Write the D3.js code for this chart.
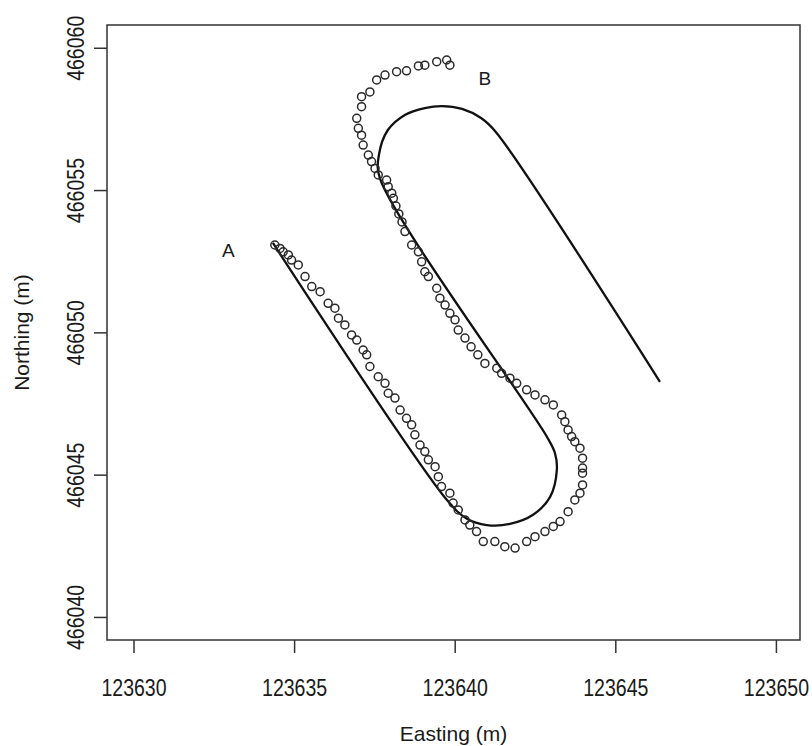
<!DOCTYPE html>
<html>
<head>
<meta charset="utf-8">
<script src="https://cdn.jsdelivr.net/npm/d3@7"></script>
<style>
  body { margin: 0; background: #fff; }
  .tick text, .lab { font-family: "Liberation Sans", Arial, sans-serif; fill: #1a1a1a; }
</style>
</head>
<body>
<div id="plot"></div>
<script>
var width = 812;
var height = 746;

// plot box in pixels (R style frame)
var box = { left: 107, right: 800, top: 25, bottom: 640 };

var xTicks = [123630, 123635, 123640, 123645, 123650];
var yTicks = [466040, 466045, 466050, 466055, 466060];
var xLim = [123629.175, 123650.75];
var yLim = [466039.19, 466060.8];

// planned track (solid line)
var trackEast = [123634.34, 123639.76, 123640.38, 123641.00, 123641.72, 123642.44, 123642.97,
    123643.18, 123643.12, 123642.87, 123637.67, 123637.64, 123637.92, 123638.45, 123639.07,
    123639.60, 123640.23, 123640.82, 123641.28, 123646.39];
var trackNorth = [466053.14, 466044.11, 466043.45, 466043.23, 466043.27, 466043.59, 466044.22,
    466045.17, 466045.76, 466046.33, 466055.42, 466056.23, 466057.11, 466057.64, 466057.88,
    466057.95, 466057.85, 466057.53, 466057.04, 466048.26];

// recorded GPS positions (circles), offsets from 123600 / 466000
var obsEast = [34.40, 34.56, 34.66, 34.82, 34.92, 35.13, 35.34, 35.55, 35.81, 36.06,
    36.27, 36.38, 36.58, 36.79, 36.95, 37.15, 37.26, 37.36, 37.62, 37.83,
    37.93, 38.14, 38.30, 38.50, 38.66, 38.76, 38.92, 39.07, 39.18, 39.39,
    39.49, 39.59, 39.85, 39.95, 40.11, 40.32, 40.47, 40.68, 40.89, 41.25,
    41.56, 41.88, 42.24, 42.50, 42.81, 43.07, 43.28, 43.53, 43.74, 43.90,
    43.98, 43.98, 43.98, 43.98, 43.90, 43.74, 43.64, 43.53, 43.43, 43.33,
    43.07, 42.81, 42.50, 42.24, 41.93, 41.72, 41.46, 41.31, 40.94, 40.72,
    40.51, 40.32, 40.11, 40.01, 39.85, 39.70, 39.54, 39.44, 39.18, 39.07,
    38.97, 38.87, 38.66, 38.45, 38.36, 38.26, 38.17, 38.09, 38.04, 37.93,
    37.88, 37.62, 37.52, 37.41, 37.31, 37.15, 37.10, 37.00, 36.95, 37.10,
    37.10, 37.36, 37.57, 37.83, 38.19, 38.50, 38.87, 39.07, 39.44, 39.75, 39.85];
var obsNorth = [53.07, 52.95, 52.83, 52.72, 52.54, 52.37, 51.96, 51.61, 51.43, 51.02,
    50.85, 50.50, 50.26, 49.91, 49.73, 49.38, 49.21, 48.80, 48.44, 48.21,
    47.86, 47.69, 47.27, 46.98, 46.75, 46.40, 46.04, 45.81, 45.52, 45.28,
    44.93, 44.58, 44.35, 44.00, 43.76, 43.41, 43.23, 43.00, 42.65, 42.65,
    42.47, 42.42, 42.65, 42.82, 43.00, 43.18, 43.35, 43.70, 44.11, 44.35,
    44.64, 45.05, 45.23, 45.58, 45.93, 46.16, 46.34, 46.57, 46.86, 47.10,
    47.45, 47.63, 47.80, 47.98, 48.21, 48.39, 48.56, 48.74, 48.91, 49.21,
    49.49, 49.80, 50.08, 50.44, 50.67, 50.96, 51.20, 51.55, 51.96, 52.13,
    52.48, 52.83, 53.07, 53.54, 53.88, 54.16, 54.44, 54.71, 54.89, 55.12,
    55.35, 55.53, 55.76, 56.00, 56.23, 56.58, 56.93, 57.17, 57.52, 57.93,
    58.28, 58.45, 58.87, 59.04, 59.16, 59.19, 59.36, 59.39, 59.51, 59.57, 59.39];
var EAST0 = 123600;
var NORTH0 = 466000;

var pointLabels = ["A", "B"];
var labelEast = [123632.95, 123640.94];
var labelNorth = [466052.89, 466058.94];

var svg = d3.select("#plot").append("svg")
    .attr("width", width)
    .attr("height", height);

var scaleX = d3.scaleLinear().domain(xLim).range([box.left, box.right]);
var scaleY = d3.scaleLinear().domain(yLim).range([box.bottom, box.top]);

// x axis (narrowed glyphs like the R/Helvetica output)
var xAxis = svg.append("g")
    .attr("transform", "translate(0," + box.bottom + ")")
    .call(d3.axisBottom(scaleX).tickValues(xTicks).tickSize(13).tickPadding(27).tickFormat(d3.format("d")));
xAxis.select(".domain").remove();
xAxis.selectAll(".tick line").attr("stroke", "#333").attr("stroke-width", 1.5);
xAxis.selectAll(".tick text")
    .attr("transform", "scale(0.85,1)")
    .style("font-size", "23px");

// y axis, labels rotated like R
var yAxis = svg.append("g")
    .attr("transform", "translate(" + box.left + ",0)")
    .call(d3.axisLeft(scaleY).tickValues(yTicks).tickSize(13).tickFormat(d3.format("d")));
yAxis.select(".domain").remove();
yAxis.selectAll(".tick line").attr("stroke", "#333").attr("stroke-width", 1.5);
yAxis.selectAll(".tick text")
    .attr("x", 0).attr("dy", 0)
    .attr("text-anchor", "middle")
    .attr("transform", "translate(-23,0) rotate(-90) scale(0.85,1)")
    .style("font-size", "23px");

// frame
svg.append("rect")
    .attr("x", box.left).attr("y", box.top)
    .attr("width", box.right - box.left).attr("height", box.bottom - box.top)
    .attr("fill", "none").attr("stroke", "#333").attr("stroke-width", 1.5);

// axis titles
svg.append("text").attr("class", "lab")
    .attr("x", (box.left + box.right) / 2).attr("y", 741)
    .attr("text-anchor", "middle")
    .style("font-size", "21px")
    .text("Easting (m)");

svg.append("text").attr("class", "lab")
    .attr("transform", translate(29, (box.top + box.bottom) / 2) + " rotate(-90)")
    .attr("text-anchor", "middle")
    .style("font-size", "21px")
    .text("Northing (m)");

// planned track
var track = trackEast.map(function(e, i) { return [e, trackNorth[i]]; });
var pathGenerator = d3.line()
    .x(function(d) { return scaleX(d[0]); })
    .y(function(d) { return scaleY(d[1]); })
    .curve(d3.curveCatmullRom.alpha(0.5));

svg.append("path")
    .attr("d", pathGenerator(track))
    .attr("fill", "none")
    .attr("stroke", "#111")
    .attr("stroke-width", 2.3);

// observed points
var obs = obsEast.map(function(e, i) { return [EAST0 + e, NORTH0 + obsNorth[i]]; });
svg.append("g").selectAll("circle")
    .data(obs)
    .enter().append("circle")
    .attr("cx", function(d) { return scaleX(d[0]); })
    .attr("cy", function(d) { return scaleY(d[1]); })
    .attr("r", 4)
    .attr("fill", "none")
    .attr("stroke", "#2a2a2a")
    .attr("stroke-width", 1.5);

// A / B labels
svg.append("g").selectAll("text")
    .data(pointLabels)
    .enter().append("text")
    .attr("class", "lab")
    .attr("x", function(d, i) { return scaleX(labelEast[i]); })
    .attr("y", function(d, i) { return scaleY(labelNorth[i]); })
    .attr("dy", "0.36em")
    .attr("text-anchor", "middle")
    .style("font-size", "19px")
    .text(function(d) { return d; });

function translate(x, y) {
    return "translate(" + x + "," + y + ")";
}
</script>
</body>
</html>
